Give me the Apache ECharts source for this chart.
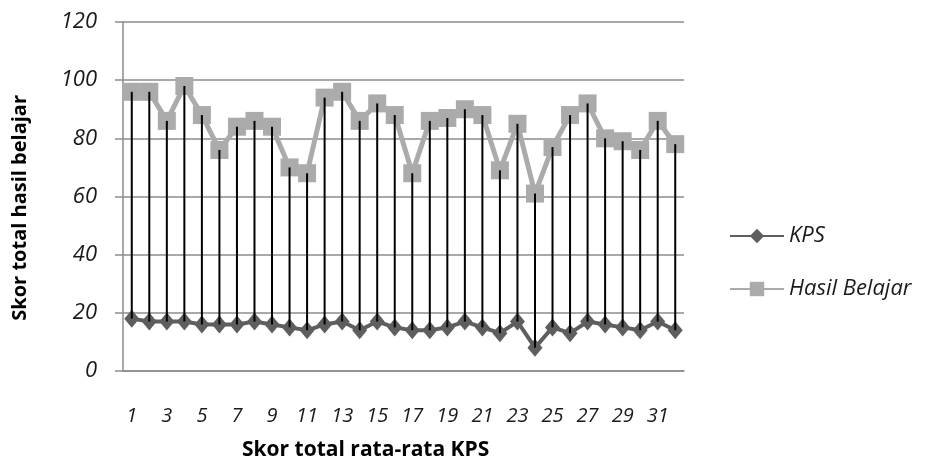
<!DOCTYPE html>
<html>
<head>
<meta charset="utf-8">
<script src="https://cdn.jsdelivr.net/npm/echarts@6/dist/echarts.min.js"></script>
<style>
  html, body { margin: 0; padding: 0; background: #fff; }
  #chart { width: 928px; height: 463px; }
</style>
</head>
<body>
<div id="chart"></div>
<script>
// data
const categories = ['1','2','3','4','5','6','7','8','9','10','11','12','13','14','15','16',
                    '17','18','19','20','21','22','23','24','25','26','27','28','29','30','31','32']
const kps = [18,17,17,17,16,16,16,17,16,15,14,16,17,14,17,15,14,14,15,17,15,13,17,8,15,13,17,16,15,14,17,14]
const hasilBelajar = [96,96,86,98,88,76,84,86,84,70,68,94,96,86,92,88,68,86,87,90,88,69,85,61,77,88,92,80,79,76,86,78]
const yTicks = { min: 0, max: 120, interval: 20 }

const font = '"Open Sans", sans-serif'
const gridColor = '#8c8c8c'

const chart = echarts.init(document.getElementById('chart'))

// pairs for the drop lines (high-low lines)
const dropData = categories.map((c, i) => [i, kps[i], hasilBelajar[i]])

const option = {
    animation: false,
    backgroundColor: '#fff',
    grid: {
        left: 123,
        right: 244,
        top: 22,
        bottom: 92,
        containLabel: false
    },
    legend: {
        orient: 'vertical',
        left: 724,
        top: 220,
        itemWidth: 54,
        itemHeight: 18,
        itemGap: 31,
        textStyle: {
            fontFamily: font,
            fontStyle: 'italic',
            fontSize: 22,
            color: '#1a1a1a'
        },
        data: ['KPS', 'Hasil Belajar']
    },
    xAxis: {
        type: 'category',
        data: categories,
        boundaryGap: true,
        axisLine: { lineStyle: { color: gridColor, width: 1.5 } },
        axisTick: { show: false },
        axisLabel: {
            interval: 1,
            margin: 35,
            fontFamily: font,
            fontStyle: 'italic',
            fontSize: 20,
            color: '#1a1a1a'
        }
    },
    yAxis: {
        type: 'value',
        min: yTicks.min,
        max: yTicks.max,
        interval: yTicks.interval,
        axisLine: { show: true, lineStyle: { color: gridColor, width: 1.5 } },
        axisTick: { show: true, length: 8, lineStyle: { color: gridColor, width: 1.5 } },
        axisLabel: {
            margin: 26,
            fontFamily: font,
            fontStyle: 'italic',
            fontSize: 22,
            color: '#1a1a1a'
        },
        splitLine: { lineStyle: { color: gridColor, width: 1.5 } }
    },
    graphic: [
        {
            type: 'text',
            left: 10,
            top: 95,
            style: {
                text: 'Skor total hasil belajar',
                fontFamily: font,
                fontWeight: 'bold',
                fontSize: 20,
                fill: '#000'
            },
            rotation: Math.PI / 2,
            originX: 0,
            originY: 0
        },
        {
            type: 'text',
            left: 242,
            top: 440,
            style: {
                text: 'Skor total rata-rata KPS',
                fontFamily: font,
                fontWeight: 'bold',
                fontSize: 21,
                fill: '#000'
            }
        }
    ],
    series: [
        {
            name: 'KPS',
            type: 'line',
            data: kps,
            symbol: 'diamond',
            symbolSize: [15, 18],
            showAllSymbol: true,
            lineStyle: { color: '#5e5e5e', width: 4 },
            itemStyle: { color: '#5e5e5e' },
            z: 2
        },
        {
            name: 'Hasil Belajar',
            type: 'line',
            data: hasilBelajar,
            symbol: 'rect',
            symbolSize: 18,
            showAllSymbol: true,
            lineStyle: { color: '#ababab', width: 5 },
            itemStyle: { color: '#ababab' },
            z: 3
        },
        {
            name: 'drop',
            type: 'custom',
            data: dropData,
            z: 5,
            renderItem: (params, api) => {
                const lo = api.coord([api.value(0), api.value(1)])
                const hi = api.coord([api.value(0), api.value(2)])
                return {
                    type: 'line',
                    shape: { x1: lo[0], y1: lo[1], x2: hi[0], y2: hi[1] },
                    style: { stroke: '#000', lineWidth: 2 }
                }
            }
        }
    ]
}
chart.setOption(option)
</script>
</body>
</html>
